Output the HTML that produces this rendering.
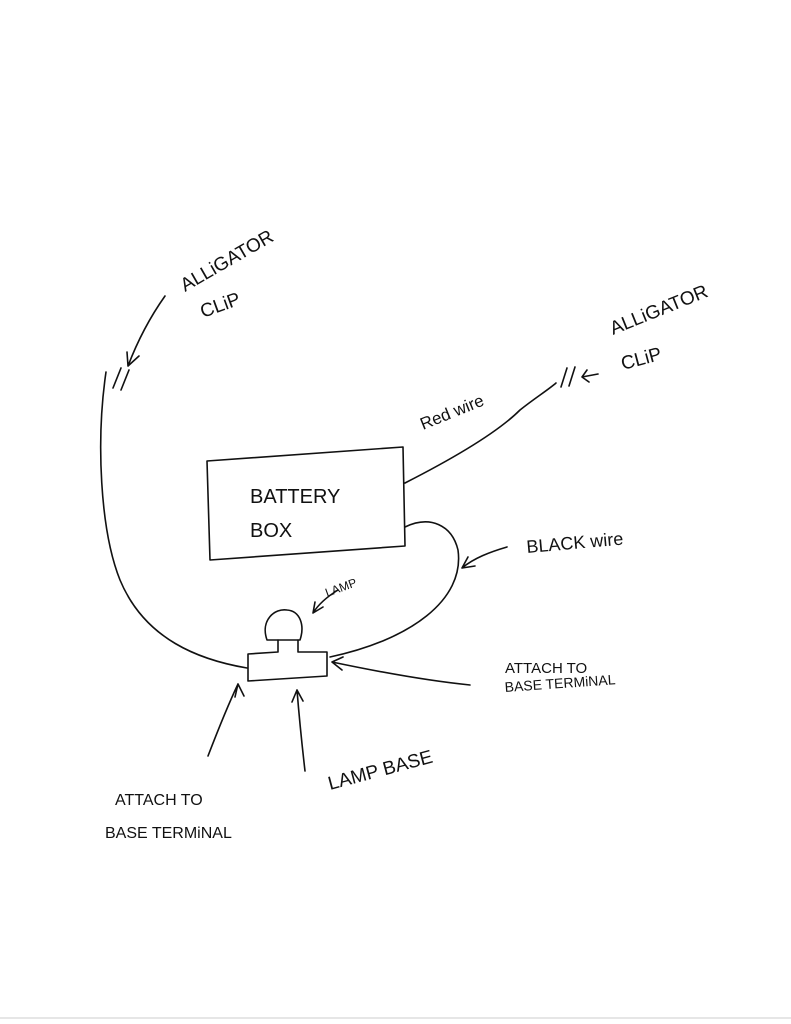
<!DOCTYPE html>
<html><head><meta charset="utf-8"><style>
html,body{margin:0;padding:0;background:#fff;}
svg{display:block;}
text{font-family:"Liberation Sans",sans-serif;fill:#111;}
</style></head><body>
<svg width="791" height="1024" viewBox="0 0 791 1024" xmlns="http://www.w3.org/2000/svg">
<rect width="791" height="1024" fill="#fff"/>
<line x1="0" y1="1018" x2="791" y2="1018" stroke="#ccc" stroke-width="1"/>
<g fill="none" stroke="#111" stroke-width="1.6" stroke-linecap="round" stroke-linejoin="round">
<path d="M207 461 L403 447 L405 546 L210 560 Z"/>
<path d="M405 483 C460 455 500 430 520 410 C535 398 548 390 556 383"/>
<path d="M561 387 L567 368 M569 386 L575 367"/>
<path d="M598 374 L582 377 M587 370 L582 377 L589 382"/>
<path d="M106 372 C96 440 100 530 120 580 C145 640 200 660 247 668"/>
<path d="M113 388 L121 368 M121 390 L129 370"/>
<path d="M165 296 C148 320 136 345 128 366 M128 366 L127 352 M128 366 L139 356"/>
<path d="M405 527 C430 515 452 525 458 550 C465 600 410 640 330 657"/>
<path d="M507 547 C490 552 474 558 462 568 M462 568 L475 566 M462 568 L468 557"/>
<path d="M267 640 C260 620 275 608 287 610 C300 611 305 625 300 640 Z"/>
<path d="M278 640 L278 652 L248 654 L248 681 L327 676 L327 652 L298 652 L298 640"/>
<path d="M338 590 C325 598 318 605 313 613 M313 613 L315 602 M313 613 L323 607"/>
<path d="M470 685 C420 680 370 670 332 662 M332 662 L343 657 M332 662 L342 670"/>
<path d="M208 756 C218 730 228 705 238 684 M238 684 L235 697 M238 684 L244 696"/>
<path d="M305 771 C302 745 299 715 297 690 M297 690 L292 702 M297 690 L303 701"/>
</g>
<text x="185" y="292" font-size="19" transform="rotate(-30 185 292)">ALLiGATOR</text>
<text x="203" y="318" font-size="19" transform="rotate(-20 203 318)">CLiP</text>
<text x="613" y="335" font-size="19" transform="rotate(-22 613 335)">ALLiGATOR</text>
<text x="623" y="370" font-size="19" transform="rotate(-15 623 370)">CLiP</text>
<text x="423" y="430" font-size="17" transform="rotate(-22 423 430)">Red wire</text>
<text x="250" y="503" font-size="20">BATTERY</text>
<text x="250" y="537" font-size="20">BOX</text>
<text x="527" y="553" font-size="18" transform="rotate(-5 527 553)">BLACK wire</text>
<text x="327" y="597" font-size="12" transform="rotate(-20 327 597)">LAMP</text>
<text x="505" y="673" font-size="15">ATTACH TO</text>
<text x="505" y="692" font-size="14" transform="rotate(-4 505 692)">BASE TERMiNAL</text>
<text x="330" y="790" font-size="19" transform="rotate(-15 330 790)">LAMP BASE</text>
<text x="115" y="805" font-size="16">ATTACH TO</text>
<text x="105" y="838" font-size="16">BASE TERMiNAL</text>
</svg>
</body></html>
